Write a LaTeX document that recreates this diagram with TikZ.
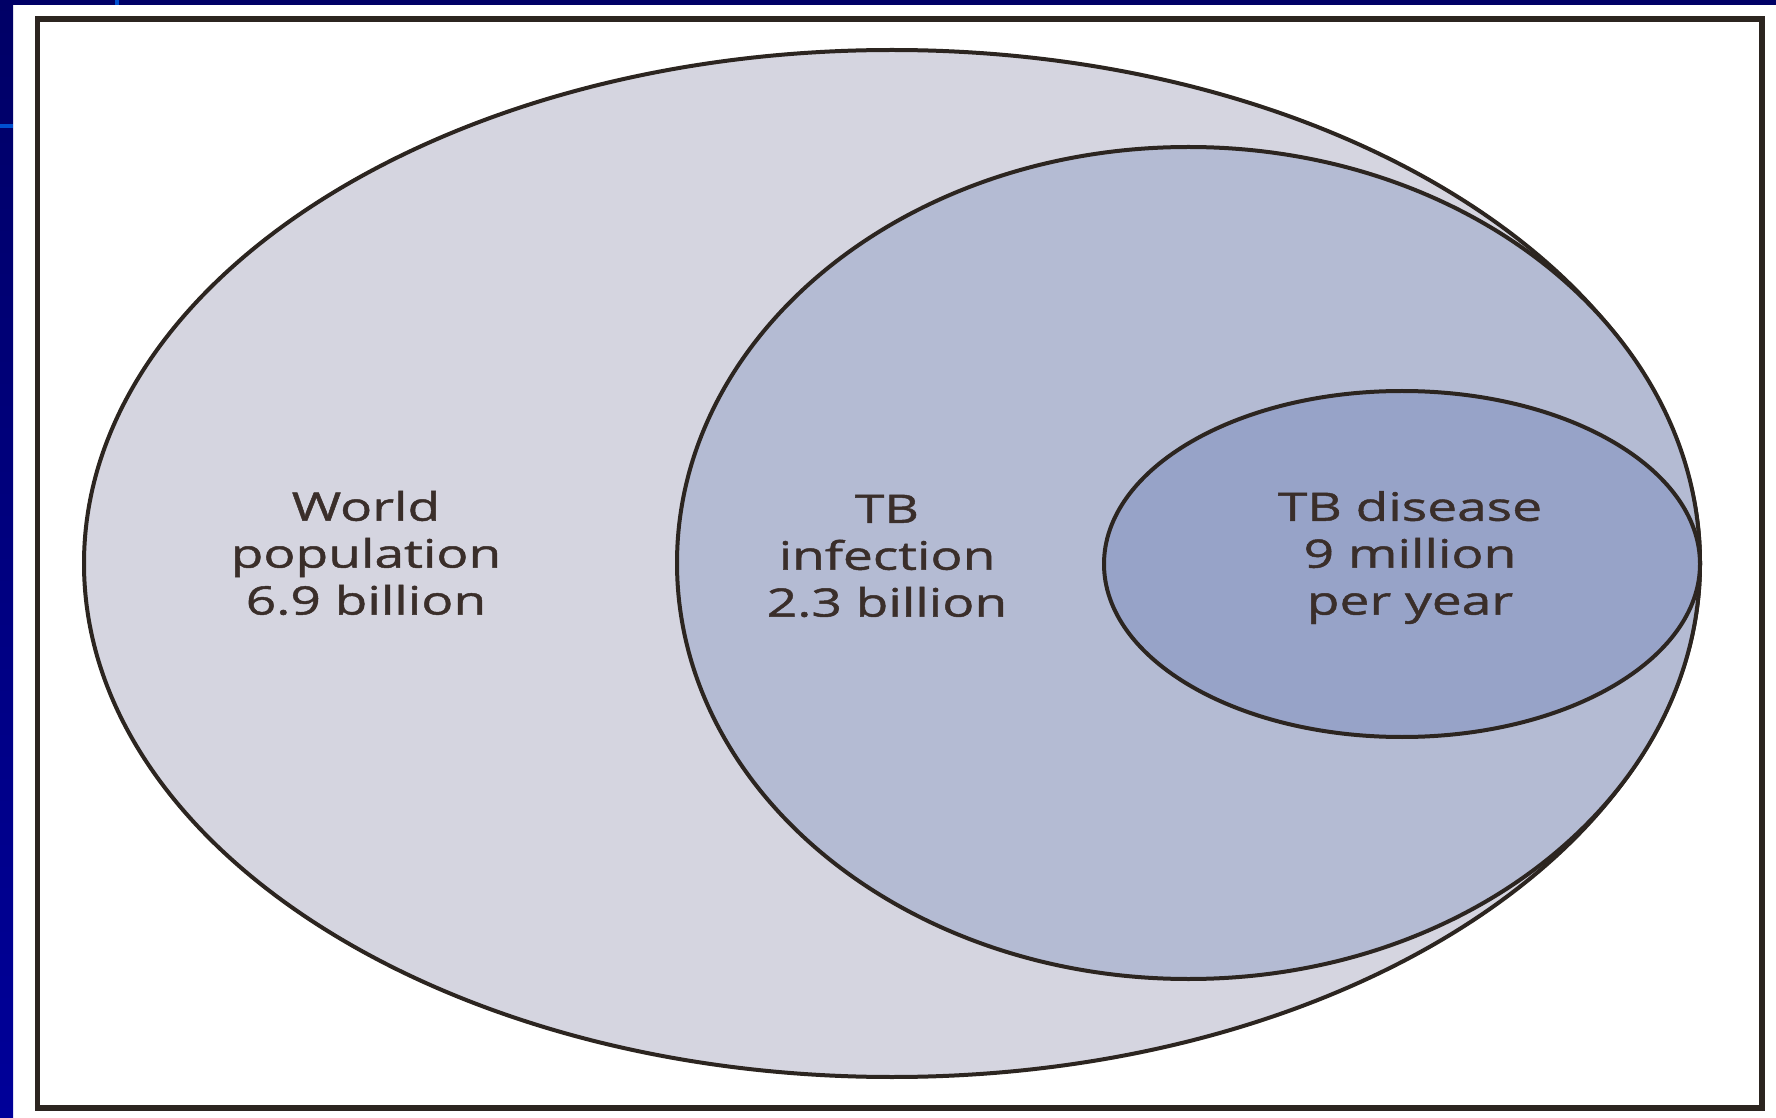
\documentclass[tikz,border=0pt]{standalone}
\usepackage{fontspec}
\newfontfamily\setfont[FakeStretch=1.36,FakeBold=1.2]{Open Sans}
\definecolor{slidenavy}{HTML}{000066}
\definecolor{slideblue}{HTML}{000099}
\definecolor{slidetick}{HTML}{0050D0}
\definecolor{inkline}{HTML}{2C2520}
\definecolor{inktext}{HTML}{3A2E2A}
\definecolor{worldfill}{HTML}{D5D5E0}
\definecolor{infectfill}{HTML}{B4BBD3}
\definecolor{diseasefill}{HTML}{97A3C8}

\begin{document}
\begin{tikzpicture}[
  x=0.02cm,y=-0.02cm,
  frame/.style={draw=inkline,line width=0.12cm},
  setring/.style={draw=inkline,line width=0.08cm},
  setlabel/.style={font=\setfont\fontsize{22.3}{26.7}\selectfont,text=inktext,align=center,inner sep=0pt}
]
\useasboundingbox (0,0) rectangle (1776,1118);
\fill[white] (0,0) rectangle (1776,1118);

% slide edge
\shade[top color=slidenavy,bottom color=slideblue] (0,0) rectangle (13,1118);
\fill[slidenavy] (0,0) rectangle (1776,5);
\fill[slidetick] (0,124) rectangle (13,128);
\fill[slidetick] (115,0) rectangle (119,5);

\draw[frame] (37.5,19.5) rectangle (1761.5,1107.5);

% the three sets
\path[setring,fill=worldfill] (892,563.5) ellipse [x radius=808,y radius=513.5];
\path[setring,fill=infectfill] (1188.5,563) ellipse [x radius=511.5,y radius=416];
\path[setring,fill=diseasefill] (1402,564) ellipse [x radius=298,y radius=173];

\node[setlabel] (world) at (366,553) {World\\population\\6.9 billion};
\node[setlabel] (infection) at (887,556) {TB\\infection\\2.3 billion};
\node[setlabel] (disease) at (1410,557.5) {TB disease\\9 million\\per year};
\end{tikzpicture}
\end{document}
